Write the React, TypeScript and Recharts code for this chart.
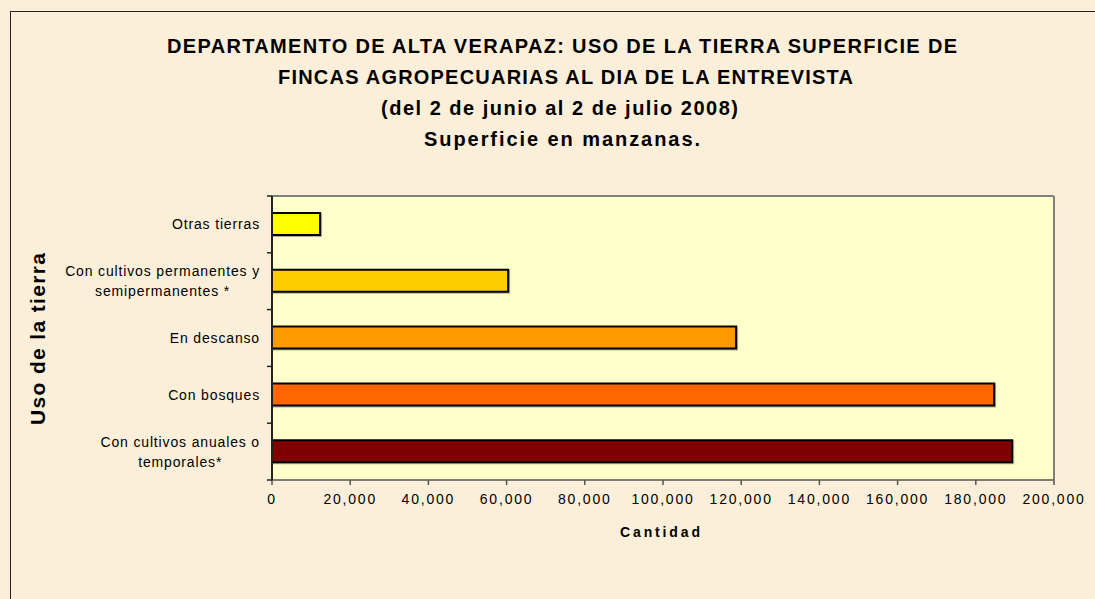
import { BarChart, Bar, XAxis, YAxis, CartesianGrid, Cell } from 'recharts'

const categories = [
  'Otras tierras',
  'Con cultivos permanentes y\nsemipermanentes *',
  'En descanso',
  'Con bosques',
  'Con cultivos anuales o\ntemporales*',
]
const values = [12300, 60400, 118700, 184700, 189300]
const barColors = ['#FFFF00', '#FFCC00', '#FF9900', '#FF6600', '#800000']
const xTicks = [0, 20000, 40000, 60000, 80000, 100000, 120000, 140000, 160000, 180000, 200000]
const titleLines = [
  'DEPARTAMENTO DE ALTA VERAPAZ: USO DE LA TIERRA SUPERFICIE DE',
  'FINCAS AGROPECUARIAS AL DIA DE LA ENTREVISTA',
  '(del 2 de junio al 2 de julio 2008)',
  'Superficie en manzanas.',
]

const data = categories.map((name, i) => ({ name, value: values[i] }))

const FONT = '"Liberation Sans", Arial, sans-serif'
const LABEL_SPACING = 0.85
const TICK_MARGIN = 12

let ctx: CanvasRenderingContext2D | null = null
function measure(text: string) {
  if (!ctx) ctx = document.createElement('canvas').getContext('2d')
  if (!ctx) return text.length * 7
  ctx.font = `14px ${FONT}`
  return ctx.measureText(text).width + LABEL_SPACING * text.length
}

// etiquetas de categoría en varias líneas + marcas entre categorías (como Excel)
function CategoryTick(props: any) {
  const { x, y, payload, index, visibleTicksCount } = props
  const lines = String(payload.value).split('\n')
  const multi = lines.length > 1
  const w = Math.max(...lines.map(measure))
  const y0 = y - (lines.length - 1) * 10
  const axisX = x + TICK_MARGIN
  const half = payload.offset ?? 0
  const isLast = index === (visibleTicksCount ?? categories.length) - 1
  return (
    <g>
      <line x1={axisX - 5} x2={axisX} y1={y - half} y2={y - half} stroke="#222" strokeWidth={1.5} />
      {isLast && <line x1={axisX - 5} x2={axisX} y1={y + half} y2={y + half} stroke="#222" strokeWidth={1.5} />}
      {lines.map((l, i) => (
        <text
          key={i}
          x={multi ? x - w / 2 : x}
          y={y0 + i * 20}
          dy="0.35em"
          textAnchor={multi ? 'middle' : 'end'}
          fontSize={14}
          fontFamily={FONT}
          letterSpacing={LABEL_SPACING}
          fill="#000"
        >
          {l}
        </text>
      ))}
    </g>
  )
}

export default function App() {
  return (
    <div style={{ position: 'absolute', left: 0, top: 0, width: 1095, height: 599, overflow: 'hidden', background: '#FBEFD9' }}>
      <div
        style={{
          position: 'absolute',
          left: 10,
          top: 11,
          width: 1200,
          height: 700,
          borderTop: '1px solid #222',
          borderLeft: '1px solid #222',
        }}
      />
      <div style={{ position: 'absolute', left: 0, top: 0 }}>
        <BarChart
          width={1095}
          height={599}
          data={data}
          layout="vertical"
          margin={{ top: 196, right: 41, bottom: 79, left: 10 }}
          barCategoryGap={0}
        >
          <CartesianGrid
            fill="#FFFFCC"
            stroke="#808080"
            strokeWidth={2}
            horizontalCoordinatesGenerator={({ offset }: any) => [offset.top]}
            verticalCoordinatesGenerator={({ offset }: any) => [offset.left + offset.width]}
          />
          <XAxis
            type="number"
            domain={[0, 200000]}
            ticks={xTicks}
            interval={0}
            tickFormatter={(v: number) => v.toLocaleString('en-US')}
            axisLine={{ stroke: '#555', strokeWidth: 1.5 }}
            tickLine={{ stroke: '#555', strokeWidth: 1.5 }}
            tickSize={5}
            tickMargin={9}
            height={40}
            tick={{ fontSize: 14, fontFamily: FONT, fill: '#000', letterSpacing: 1.8 }}
          />
          <YAxis
            type="category"
            dataKey="name"
            width={262}
            interval={0}
            tickLine={false}
            axisLine={{ stroke: '#222', strokeWidth: 2 }}
            tickSize={0}
            tickMargin={TICK_MARGIN}
            tick={<CategoryTick />}
          />
          <Bar
            dataKey="value"
            barSize={22}
            stroke="#000"
            strokeWidth={2}
            isAnimationActive={false}
            style={{ filter: 'drop-shadow(1px 1px 0 rgba(0,0,0,0.3))' }}
          >
            {data.map((_, i) => (
              <Cell key={i} fill={barColors[i]} />
            ))}
          </Bar>
        </BarChart>
      </div>
      <svg width={1095} height={599} style={{ position: 'absolute', left: 0, top: 0, pointerEvents: 'none' }}>
        <g fontFamily={FONT} fontWeight="bold" fill="#000">
          <text x={167} y={53} fontSize={20} textLength={790} lengthAdjust="spacing">{titleLines[0]}</text>
          <text x={278} y={84} fontSize={20} textLength={575} lengthAdjust="spacing">{titleLines[1]}</text>
          <text x={381} y={115} fontSize={20} textLength={357} lengthAdjust="spacing">{titleLines[2]}</text>
          <text x={424} y={146} fontSize={20} textLength={276} lengthAdjust="spacing">{titleLines[3]}</text>
          <text
            transform="translate(45, 425) rotate(-90)"
            x={0}
            y={0}
            fontSize={21}
            textLength={172}
            lengthAdjust="spacing"
          >
            Uso de la tierra
          </text>
          <text x={620} y={537} fontSize={14} textLength={80} lengthAdjust="spacing">Cantidad</text>
        </g>
      </svg>
    </div>
  )
}
